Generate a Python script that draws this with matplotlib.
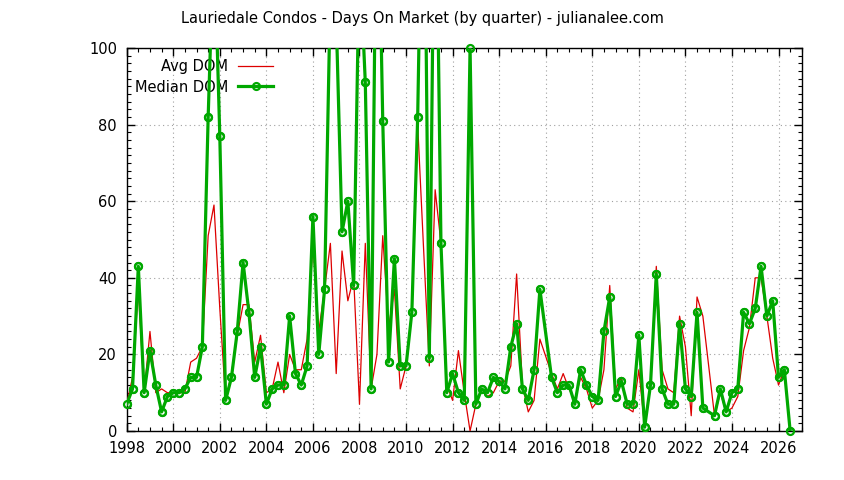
import numpy as np
import pandas as pd
import matplotlib
matplotlib.use("Agg")
import matplotlib.pyplot as plt
from matplotlib.ticker import MultipleLocator

# quarters with data (2016Q1 and 2023Q1 have no sales)
quarters = pd.period_range("1998Q1", "2026Q3", freq="Q")
missing = ["2016Q1", "2023Q1"]
quarters = [q for q in quarters if str(q) not in missing]

avg_dom = [7, 14, 37, 10,  26, 10, 11, 10,  10, 10, 10, 18,  19, 22, 51, 59,
           32, 8, 15, 25,  33, 33, 18, 25,  10, 11, 18, 10,  20, 16, 16, 24,
           49, 26, 37, 49,  15, 47, 34, 40,  7, 49, 11, 20,  51, 27, 37, 11,
           17, 31, 80, 48,  17, 63, 49, 12,  8, 21, 10, 0,  7, 11, 9, 10,
           13, 13, 17, 41,  12, 5, 8, 24,  15, 11, 15,  11, 8, 14, 11,
           6, 8, 16, 38,  11, 14, 6, 5,  16, 1, 12, 43,  16, 11, 10, 30,
           22, 4, 35, 30,  4, 10, 5,  6, 9, 21, 27,  40, 40, 30, 19,
           12, 16, np.nan]

median_dom = [7, 11, 43, 10,  21, 12, 5, 9,  10, 10, 11, 14,  14, 22, 82, 130,
              77, 8, 14, 26,  44, 31, 14, 22,  7, 11, 12, 12,  30, 15, 12, 17,
              56, 20, 37, 115,  108, 52, 60, 38,  125, 91, 11, 160,  81, 18, 45, 17,
              17, 31, 82, 170,  19, 165, 49, 10,  15, 10, 8, 100,  7, 11, 10, 14,
              13, 11, 22, 28,  11, 8, 16, 37,  14, 10, 12,  12, 7, 16, 12,
              9, 8, 26, 35,  9, 13, 7, 7,  25, 1, 12, 41,  11, 7, 7, 28,
              11, 9, 31, 6,  4, 11, 5,  10, 11, 31, 28,  32, 43, 30, 34,
              14, 16, 0]

x = np.array([q.year + (q.quarter - 1) / 4 for q in quarters])
avg_dom = np.array(avg_dom, dtype=float)
median_dom = np.array(median_dom, dtype=float)

plt.rcParams['font.family'] = ['DejaVu Sans']
plt.rcParams['font.size'] = 10.5

fig = plt.figure(figsize=(8.44, 4.8), dpi=100)
ax = fig.add_axes([0.1501, 0.102, 0.7999, 0.798])

red = '#dd0000'
green = '#00a800'

ax.plot(x, avg_dom, color=red, lw=0.9, label='Avg DOM', zorder=3)
ax.plot(x, median_dom, color=green, lw=2.3, marker='o', ms=5, mfc='none',
        mew=1.6, label='Median DOM', zorder=4)
# markers at the border are not cut off
inr = (median_dom >= 0) & (median_dom <= 100)
ax.plot(x[inr], median_dom[inr], ls='none', marker='o', ms=5, mfc='none',
        mew=1.6, color=green, clip_on=False, zorder=4)

ax.set_xlim(1998, 2027)
ax.set_ylim(0, 100)
ax.xaxis.set_major_locator(MultipleLocator(2))
ax.xaxis.set_minor_locator(MultipleLocator(0.5))
ax.yaxis.set_major_locator(MultipleLocator(20))
ax.yaxis.set_minor_locator(MultipleLocator(2))
ax.tick_params(which='both', direction='in', top=True, right=True, colors='black')
ax.tick_params(which='major', length=6, width=1, pad=7)
ax.tick_params(which='minor', length=3, width=0.8)
ax.grid(True, which='major', color='#a0a0a0', ls=(0, (1, 3)), lw=0.8)
for s in ax.spines.values():
    s.set_linewidth(1)

leg = ax.legend(loc='upper left', bbox_to_anchor=(0.012, 0.97), frameon=False,
                markerfirst=False, handlelength=2.4, handletextpad=0.7,
                borderpad=0, borderaxespad=0, labelspacing=0.35, fontsize=10.5)
leg.set_zorder(2)

fig.text(0.5, 1 - 19 / 480, 'Lauriedale Condos - Days On Market (by quarter) - julianalee.com',
         ha='center', va='center', fontsize=10.5)

fig.savefig('out.png', dpi=100)
